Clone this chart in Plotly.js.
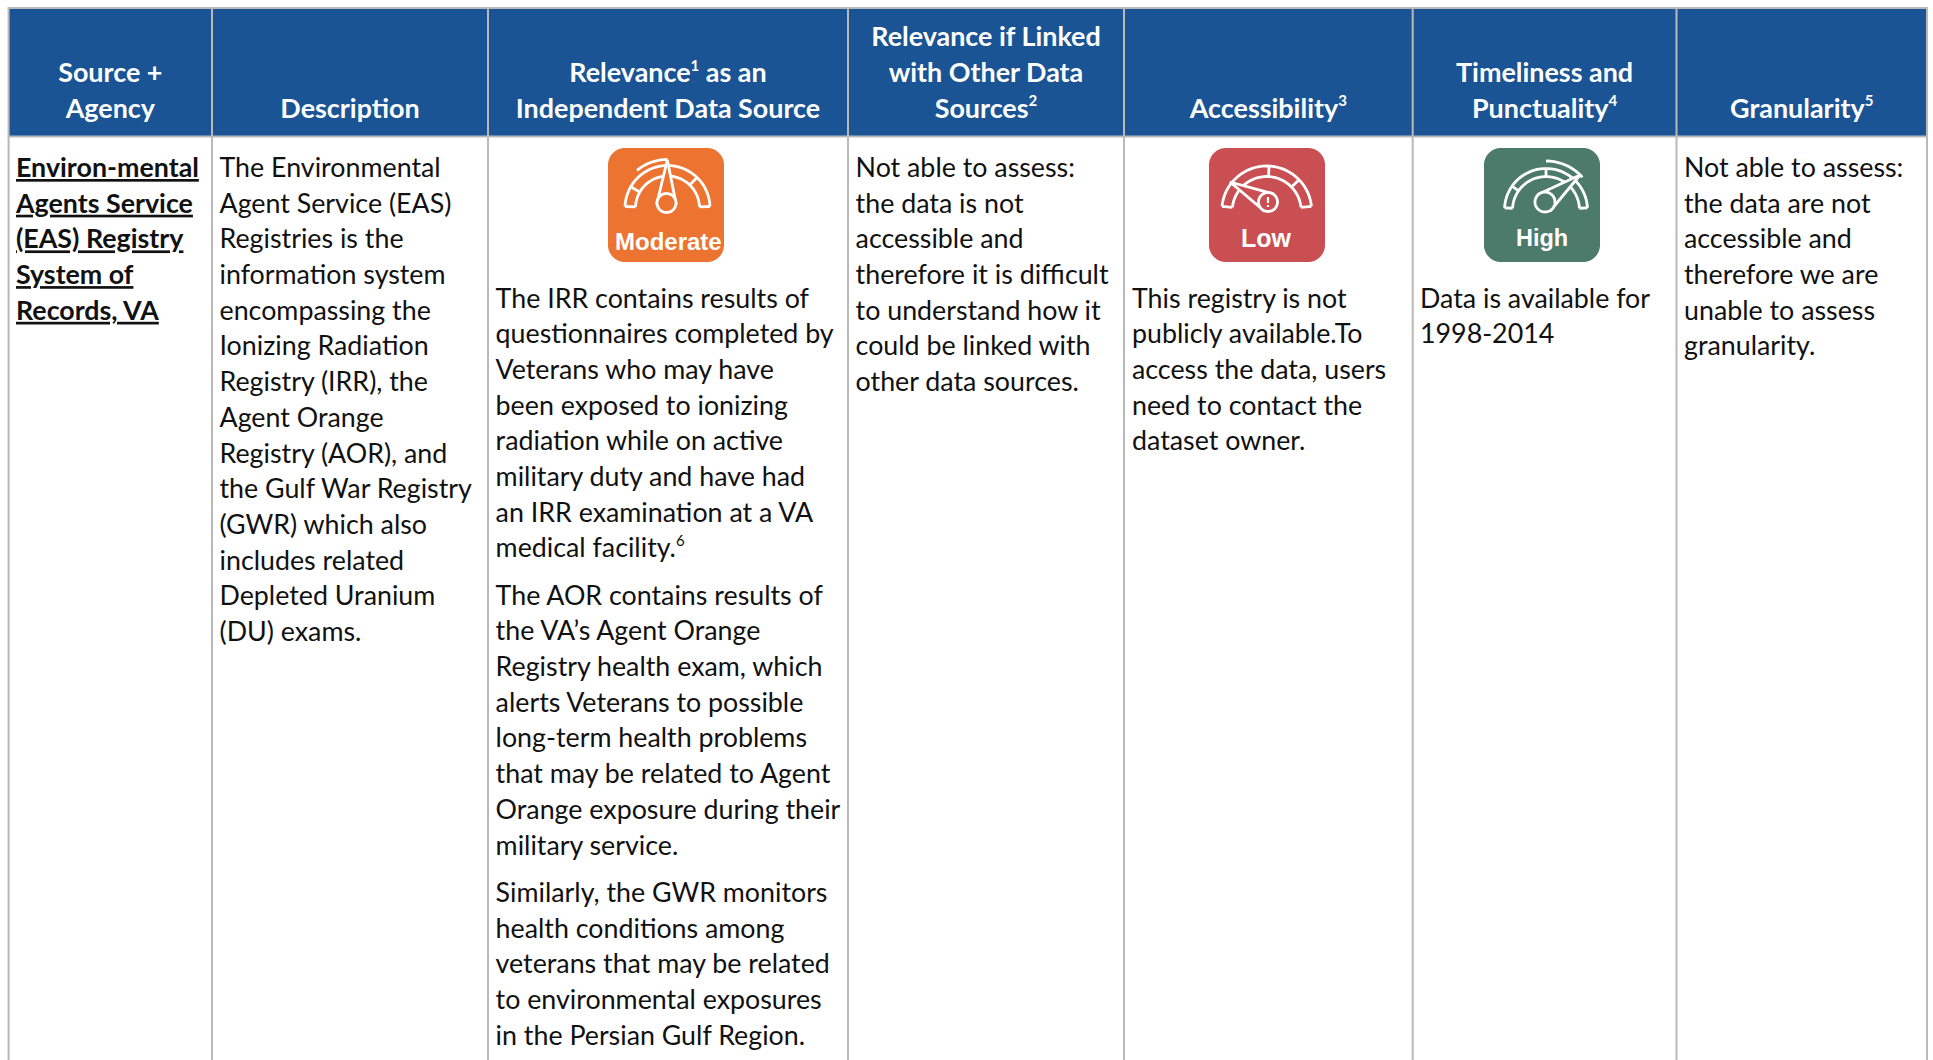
<!DOCTYPE html>
<html>
<head>
<meta charset="utf-8">
<script src="https://cdn.plot.ly/plotly-3.0.1.min.js"></script>
<style>html,body{margin:0;padding:0;background:#fff}#chart{width:1933px;height:1060px}</style>
</head>
<body>
<div id="chart"></div>
<script>
var columnEdges = [8.6, 212, 488, 848, 1124, 1412.7, 1676.5, 1927];
var headerTop = 8, headerBottom = 136.5, pageBottom = 1060;
var linePitch = 35.7;
var bodyFont = 'Lato', bodySize = 26.8, boldSize = 26.8, headerSize = 26.9;

function note(n) { return '<sup><span style="font-size:80%">' + n + '</span></sup>'; }

var headerSource = ['Source +', 'Agency'];
var headerDescription = ['Description'];
var headerRelevance = ['Relevance' + note(1) + ' as an', 'Independent Data Source'];
var headerLinked = ['Relevance if Linked', 'with Other Data', 'Sources' + note(2)];
var headerAccessibility = ['Accessibility' + note(3)];
var headerTimeliness = ['Timeliness and', 'Punctuality' + note(4)];
var headerGranularity = ['Granularity' + note(5)];

var sourceLines = ['Environ-mental', 'Agents Service', '(EAS) Registry', 'System of', 'Records, VA'];
var descriptionLines = ['The Environmental', 'Agent Service (EAS)', 'Registries is the', 'information system', 'encompassing the',
  'Ionizing Radiation', 'Registry (IRR), the', 'Agent Orange', 'Registry (AOR), and', 'the Gulf War Registry',
  '(GWR) which also', 'includes related', 'Depleted Uranium', '(DU) exams.'];
var relevanceIrr = ['The IRR contains results of', 'questionnaires completed by', 'Veterans who may have', 'been exposed to ionizing',
  'radiation while on active', 'military duty and have had', 'an IRR examination at a VA', 'medical facility.' + note(6)];
var relevanceAor = ['The AOR contains results of', 'the VA\u2019s Agent Orange', 'Registry health exam, which', 'alerts Veterans to possible',
  'long-term health problems', 'that may be related to Agent', 'Orange exposure during their', 'military service.'];
var relevanceGwr = ['Similarly, the GWR monitors', 'health conditions among', 'veterans that may be related', 'to environmental exposures', 'in the Persian Gulf Region.'];
var linkedLines = ['Not able to assess:', 'the data is not', 'accessible and', 'therefore it is difficult', 'to understand how it', 'could be linked with', 'other data sources.'];
var accessLines = ['This registry is not', 'publicly available.To', 'access the data, users', 'need to contact the', 'dataset owner.'];
var timelinessLines = ['Data is available for', '1998-2014'];
var granularityLines = ['Not able to assess:', 'the data are not', 'accessible and', 'therefore we are', 'unable to assess', 'granularity.'];

var ratingLabels = ['Moderate', 'Low', 'High'];
var ratingColors = ['#ec7430', '#c94f52', '#4c7a6b'];

var xOffset = 0, yOffset = 2.6;

function bodyBlock(lines, x, y0, bold) {
  return {
    type: 'scatter', mode: 'text', hoverinfo: 'skip', showlegend: false, cliponaxis: false,
    x: lines.map(function () { return x + xOffset; }),
    y: lines.map(function (_, i) { return y0 + yOffset + i * linePitch; }),
    text: lines.map(function (t) { return bold ? '<b><u>' + t + '</u></b>' : t; }),
    textposition: 'middle right',
    textfont: { family: bodyFont, size: bold ? boldSize : bodySize, color: '#111111' }
  };
}
function headerBlock(lines, col) {
  var cx = (columnEdges[col] + columnEdges[col + 1]) / 2, n = lines.length;
  return {
    type: 'scatter', mode: 'text', hoverinfo: 'skip', showlegend: false, cliponaxis: false,
    x: lines.map(function () { return cx; }),
    y: lines.map(function (_, i) { return 111 - (n - 1 - i) * linePitch; }),
    text: lines.map(function (t) { return '<b>' + t + '</b>'; }),
    textposition: 'middle center',
    textfont: { family: bodyFont, size: headerSize, color: '#ffffff' }
  };
}
var traces = [
  headerBlock(headerSource, 0), headerBlock(headerDescription, 1), headerBlock(headerRelevance, 2),
  headerBlock(headerLinked, 3), headerBlock(headerAccessibility, 4), headerBlock(headerTimeliness, 5), headerBlock(headerGranularity, 6),
  bodyBlock(sourceLines, 16, 167.7, true),
  bodyBlock(descriptionLines, 219.5, 167.7),
  bodyBlock(relevanceIrr, 495.6, 298.3),
  bodyBlock(relevanceAor, 495.6, 595.4),
  bodyBlock(relevanceGwr, 495.6, 892.6),
  bodyBlock(linkedLines, 855.6, 167.7),
  bodyBlock(accessLines, 1132, 298.3),
  bodyBlock(timelinessLines, 1420, 298.3),
  bodyBlock(granularityLines, 1684, 167.7)
];

// ---- table frame and gauge icons as shapes ----
var shapes = [];
shapes.push({ type: 'rect', xref: 'x', yref: 'y', layer: 'below', x0: columnEdges[0], x1: columnEdges[7], y0: headerTop, y1: headerBottom,
  fillcolor: '#1a5494', line: { width: 0 } });
function hline(y) {
  shapes.push({ type: 'line', xref: 'x', yref: 'y', layer: 'below', x0: columnEdges[0] - 1, x1: columnEdges[7] + 1, y0: y, y1: y, line: { color: '#b9b9b9', width: 2 } });
}
hline(headerTop); hline(headerBottom);
columnEdges.forEach(function (x) {
  shapes.push({ type: 'line', xref: 'x', yref: 'y', layer: 'below', x0: x, x1: x, y0: headerTop, y1: pageBottom, line: { color: '#b9b9b9', width: 2 } });
});

function pt(cx, cy, r, a) { var t = a * Math.PI / 180; return [cx + r * Math.cos(t), cy - r * Math.sin(t)]; }
function arcPts(cx, cy, r, a0, a1) {
  var n = Math.max(2, Math.ceil(Math.abs(a1 - a0) / 5)), out = [];
  for (var i = 0; i <= n; i++) out.push(pt(cx, cy, r, a0 + (a1 - a0) * i / n));
  return out;
}
function toPath(pts, close) {
  return pts.map(function (p, i) { return (i ? 'L' : 'M') + p[0].toFixed(2) + ',' + p[1].toFixed(2); }).join(' ') + (close ? ' Z' : '');
}
function addPath(d, fill, width) {
  var s = { type: 'path', xref: 'x', yref: 'y', layer: 'above', path: d, line: { color: '#ffffff', width: width } };
  if (fill) s.fillcolor = fill;
  shapes.push(s);
}
function roundRect(x0, y0, x1, y1, r, color) {
  var pts = [].concat(
    arcPts(x1 - r, y0 + r, r, 90, 0), arcPts(x1 - r, y1 - r, r, 0, -90),
    arcPts(x0 + r, y1 - r, r, -90, -180), arcPts(x0 + r, y0 + r, r, 180, 90));
  shapes.push({ type: 'path', xref: 'x', yref: 'y', layer: 'above', path: toPath(pts, true), fillcolor: color, line: { width: 0 } });
}
function gauge(g) {
  roundRect(g.x0, 148, g.x1, 262, 17, g.color);
  var cx = g.bx, cy = g.by, R = g.R, r = g.r, w = 2.8, a0 = g.ends[0], a1 = g.ends[1];
  addPath(toPath(arcPts(cx, cy, R, a0, a1)), null, w);
  addPath(toPath(arcPts(cx, cy, r, a0, a1)), null, w);
  addPath(toPath([pt(cx, cy, R, a0), pt(cx, cy, r, a0)]), null, w);
  addPath(toPath([pt(cx, cy, R, a1), pt(cx, cy, r, a1)]), null, w);
  g.dividers.forEach(function (a) { addPath(toPath([pt(cx, cy, R, a), pt(cx, cy, r, a)]), null, w); });
  if (g.high) addPath(toPath(arcPts(cx, cy, g.highR, g.high[0], g.high[1])), null, w);
  var dir = Math.atan2(-(g.tip[1] - g.ky), g.tip[0] - g.kx) * 180 / Math.PI;
  addPath(toPath([pt(g.kx, g.ky, g.k, dir + 90), g.tip, pt(g.kx, g.ky, g.k, dir - 90)], true), g.color, w);
  addPath(toPath(arcPts(g.kx, g.ky, g.k, 0, 360), true), g.color, w);
  if (g.mark) {
    addPath('M' + g.kx + ',' + (g.ky - 5) + ' L' + g.kx + ',' + (g.ky + 1), null, 2.2);
    addPath('M' + g.kx + ',' + (g.ky + 3) + ' L' + g.kx + ',' + (g.ky + 5), null, 2.2);
  }
}
var gauges = [
  { x0: 608, x1: 724, bx: 667.5, by: 208, R: 42.5, r: 32, ends: [178, 2], kx: 666.5, ky: 203, k: 9.5, tip: [667.3, 160],
    color: ratingColors[0], high: [129, 90], highR: 48.5, dividers: [150, 46] },
  { x0: 1209, x1: 1325, bx: 1266.7, by: 211, R: 45, r: 34.5, ends: [174, 6], kx: 1268, ky: 202, k: 9.5, tip: [1230, 182],
    color: ratingColors[1], dividers: [87, 44], mark: true },
  { x0: 1484, x1: 1600, bx: 1546, by: 210, R: 41.5, r: 33.5, ends: [177, 3], kx: 1545, ky: 202, k: 10, tip: [1580, 175],
    color: ratingColors[2], high: [90, 42], highR: 49, dividers: [145, 90] }
];
gauges.forEach(gauge);

var ratingX = [668, 1266, 1542], ratingY = [241, 238, 238], ratingSize = [24, 25, 23.5];
var annotations = ratingLabels.map(function (t, i) {
  return { xref: 'x', yref: 'y', x: ratingX[i], y: ratingY[i], xanchor: 'center', yanchor: 'middle', showarrow: false,
    text: '<b>' + t + '</b>', font: { family: 'Liberation Sans', size: ratingSize[i], color: '#ffffff' } };
});

Plotly.newPlot('chart', traces, {
  width: 1933, height: 1060, margin: { l: 0, r: 0, t: 0, b: 0 },
  paper_bgcolor: '#ffffff', plot_bgcolor: '#ffffff', showlegend: false, hovermode: false,
  xaxis: { range: [0, 1933], visible: false, fixedrange: true },
  yaxis: { range: [1060, 0], visible: false, fixedrange: true },
  shapes: shapes, annotations: annotations
}, { displayModeBar: false, staticPlot: true });
</script>
</body>
</html>
